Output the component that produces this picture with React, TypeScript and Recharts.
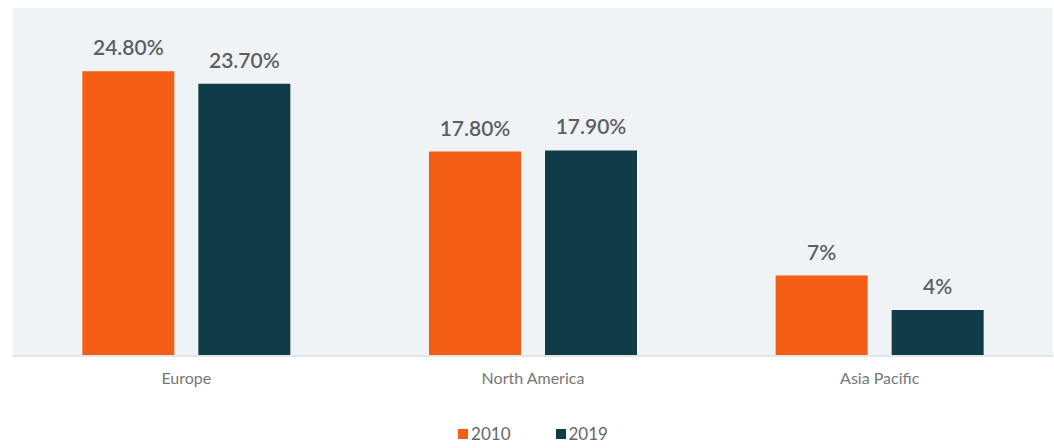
import { Bar, BarChart, CartesianGrid, LabelList, Legend, XAxis, YAxis } from 'recharts'

const REGIONS = ['Europe', 'North America', 'Asia Pacific']
const SHARE_2010 = [24.8, 17.8, 7]
const SHARE_2019 = [23.7, 17.9, 4]
const LABELS_2010 = ['24.80%', '17.80%', '7%']
const LABELS_2019 = ['23.70%', '17.90%', '4%']

const ORANGE = '#f45e14'
const TEAL = '#0f3c46'
const FONT = 'Lato, "Open Sans", sans-serif'

const chartData = REGIONS.map((name, i) => ({
  name,
  y2010: SHARE_2010[i],
  y2019: SHARE_2019[i],
  l2010: LABELS_2010[i],
  l2019: LABELS_2019[i],
}))

function LegendContent({ payload }: any) {
  return (
    <div
      style={{
        display: 'flex',
        justifyContent: 'center',
        alignItems: 'flex-end',
        height: 40,
        fontFamily: FONT,
        fontSize: 17,
        color: '#666',
      }}
    >
      {(payload ?? []).map((item: any, i: number) => (
        <div key={item.value} style={{ display: 'flex', alignItems: 'center', marginLeft: i ? 45 : 0, marginBottom: 2 }}>
          <span style={{ width: 10, height: 10, background: item.color, marginRight: 3, display: 'inline-block' }} />
          <span style={{ lineHeight: '20px' }}>{item.value}</span>
        </div>
      ))}
    </div>
  )
}

const labelStyle = { fill: '#5e5e5e', fontSize: 21, fontWeight: 600, fontFamily: FONT }

export default function App() {
  return (
    <div style={{ position: 'absolute', left: 0, top: 0 }}>
      <BarChart
        width={1054}
        height={448}
        data={chartData}
        margin={{ top: 8, right: 1, bottom: 0, left: 13 }}
        barCategoryGap="20%"
        barGap={24}
      >
        <CartesianGrid fill="#f0f3f5" stroke="none" vertical={false} horizontal={false} />
        <XAxis
          dataKey="name"
          height={52}
          tickLine={false}
          tickSize={0}
          tickMargin={17}
          axisLine={{ stroke: '#e1e5e7', strokeWidth: 2 }}
          tick={{ fill: '#777', fontSize: 16, fontFamily: FONT }}
        />
        <YAxis hide domain={[0, 30.3]} />
        <Legend verticalAlign="bottom" height={40} wrapperStyle={{ bottom: 2 }} content={<LegendContent />} />
        <Bar dataKey="y2010" name="2010" fill={ORANGE} isAnimationActive={false}>
          <LabelList dataKey="l2010" position="top" offset={16} style={labelStyle} />
        </Bar>
        <Bar dataKey="y2019" name="2019" fill={TEAL} isAnimationActive={false}>
          <LabelList dataKey="l2019" position="top" offset={16} style={labelStyle} />
        </Bar>
      </BarChart>
    </div>
  )
}
